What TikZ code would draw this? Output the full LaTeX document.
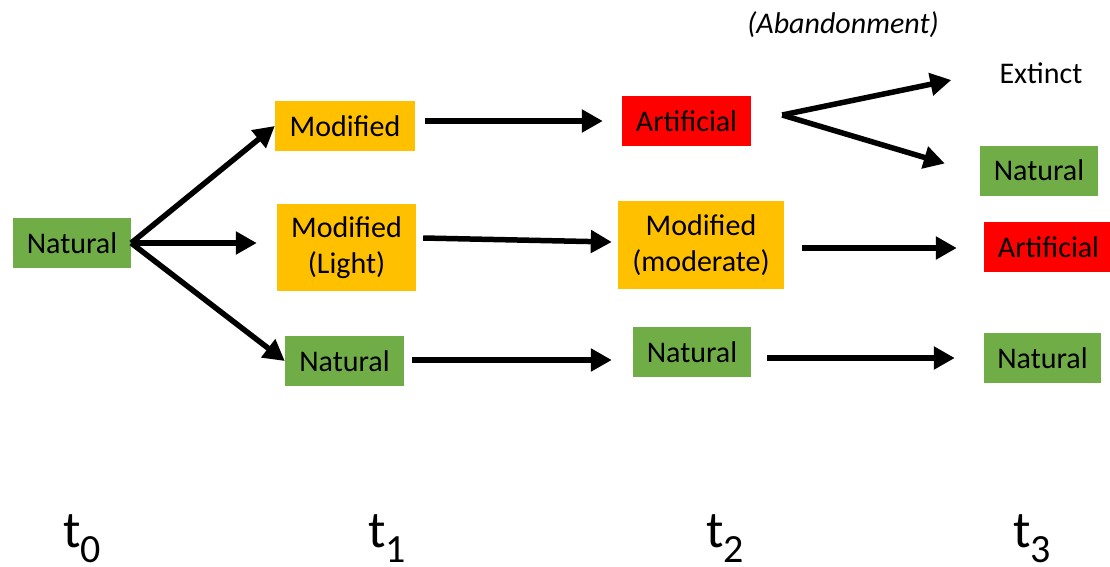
\documentclass[tikz,border=0pt]{standalone}
\usepackage{fontspec}
\setmainfont{Carlito}
\usetikzlibrary{arrows.meta,calc}
\definecolor{natgreen}{HTML}{70AD47}
\definecolor{modorange}{HTML}{FFC000}
\definecolor{artred}{HTML}{FF0000}
\tikzset{
  box/.style={inner sep=0pt, align=center, font=\fontsize{30}{36}\selectfont},
  natbox/.style={box, fill=natgreen, minimum width=118pt, minimum height=50pt},
  modbox/.style={box, fill=modorange},
  artbox/.style={box, fill=artred, minimum width=129pt, minimum height=50pt},
  plain/.style={box},
  conn/.style={line width=5.5pt, -{Triangle[length=21pt,width=22pt]}},
  tlabel/.style={inner sep=0pt, anchor=base west, font=\fontsize{52}{52}\selectfont}
}
\newcommand{\tsub}[1]{t\smash{\raisebox{-0.3em}{\fontsize{40}{40}\selectfont #1}}}
\begin{document}
\begin{tikzpicture}[x=1pt,y=-1pt]
\useasboundingbox (0,0) rectangle (1110,566);
% t0
\node[natbox] (n0) at (72,243) {Natural};
% t1
\node[modbox, minimum width=140pt, minimum height=50pt] (m1) at (345,126) {Modified};
\node[modbox, minimum width=139pt, minimum height=87pt] (ml) at (346.5,247.5) {Modified\\(Light)};
\node[natbox, minimum width=119pt] (nb) at (344.5,361) {Natural};
% t2
\node[artbox] (a2) at (686.5,121) {Artificial};
\node[modbox, minimum width=166pt, minimum height=88pt] (mm) at (701,245) {Modified\\(moderate)};
\node[natbox] (n2) at (692,352) {Natural};
% t3
\node[plain] (ex) at (1041,73) {Extinct};
\node[natbox] (n3a) at (1039,170.5) {Natural};
\node[artbox] (a3) at (1048.5,247) {Artificial};
\node[natbox, minimum width=117pt] (n3b) at (1042.5,358) {Natural};
\node[plain, font=\fontsize{30}{36}\selectfont\itshape] (ab) at (843,25) {(Abandonment)};
% connectors
\draw[conn] (n0.east) -- (m1.west);
\draw[conn, shorten >=20pt] (n0.east) -- (n0.east -| ml.west);
\draw[conn] (n0.east) -- (nb.west);
\draw[conn, shorten <=10pt, shorten >=19pt] (m1.east |- a2.west) -- (a2.west);
\draw[conn] ($(ml.east)+(7,-9.5)$) -- ($(mm.west)+(-6,-3)$);
\draw[conn, shorten <=8pt, shorten >=21pt] (nb.east |- 0,360) -- (n2.west |- 0,360);
\coordinate (fan) at ($(a2.east)+(31,-6)$);
\draw[conn] (fan) -- ($(ex.west)+(-48,7)$);
\draw[conn] (fan) -- ($(n3a.west)+(-35,-7)$);
\draw[conn, shorten <=18pt, shorten >=27pt] (mm.east |- 0,248) -- (a3.west |- 0,248);
\draw[conn, shorten <=16pt, shorten >=29pt] (n2.east |- 0,358) -- (n3b.west |- 0,358);
% time labels
\node[tlabel] (t0) at (63,547) {\tsub{0}};
\node[tlabel] (t1) at (368,547) {\tsub{1}};
\node[tlabel] (t2) at (706,547) {\tsub{2}};
\node[tlabel] (t3) at (1013,547) {\tsub{3}};
\end{tikzpicture}
\end{document}
